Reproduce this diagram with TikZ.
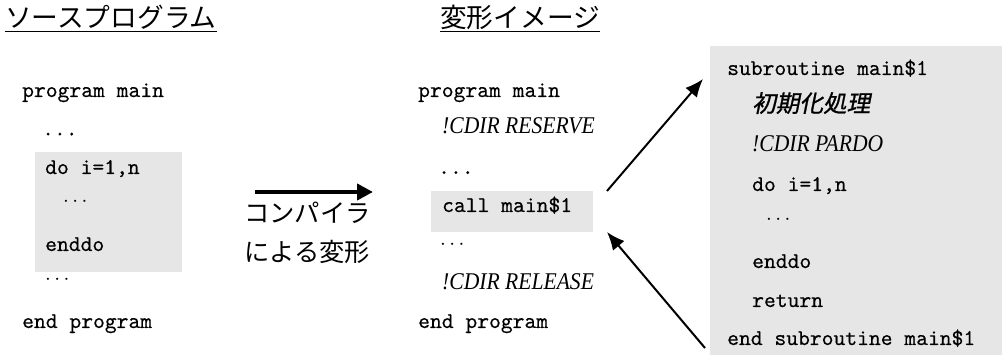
\documentclass[tikz,border=0pt]{standalone}
\usepackage{fontspec}
\usetikzlibrary{arrows.meta}
\newfontfamily\jpfont{Noto Sans CJK JP}
\newfontfamily\jpslant[FakeSlant=0.2,FakeBold=1.0]{Noto Sans CJK JP}
\newfontfamily\cdirfont[FakeStretch=0.9]{Liberation Serif Italic}
\newfontfamily\monobold[FakeBold=0.35]{lmmono10-regular.otf}
\newcommand\mycode{\monobold\fontsize{22.5}{27}\selectfont}
\definecolor{boxgray}{RGB}{230,230,230}
\begin{document}
\begin{tikzpicture}[x=1pt,y=-1pt,
  code/.style={anchor=base west,inner sep=0pt,font=\mycode},
  dots/.style={anchor=west,inner sep=0pt,font=\mycode},
  cdir/.style={anchor=base west,inner sep=0pt,font=\cdirfont\fontsize{24}{28}\selectfont},
  title/.style={anchor=base west,inner sep=0pt,font=\jpfont\fontsize{26.7}{30}\selectfont},
  jplabel/.style={anchor=base west,inner sep=0pt,font=\jpfont\fontsize{25.3}{30}\selectfont},
  graybox/.style={fill=boxgray,draw=none,inner sep=0pt,anchor=north west},
  uline/.style={line width=1.8pt},
  bigarrow/.style={line width=4pt,-{Triangle[length=16pt,width=16pt]}},
  diagarrow/.style={line width=2pt,-{Latex[length=18pt,width=15pt]}}]
\useasboundingbox (0,0) rectangle (1002,355);

% gray boxes
\node[graybox,minimum width=147pt,minimum height=120pt] (loopbox) at (35,152) {};
\node[graybox,minimum width=162pt,minimum height=41pt] (callbox) at (431,191) {};
\node[graybox,minimum width=292pt,minimum height=309pt] (subbox) at (710,46) {};

% titles
\node[title] (t1) at (5,28) {ソースプログラム};
\node[title] (t2) at (440,28) {変形イメージ};
\draw[uline] ([yshift=-3.5pt]t1.base west) -- ([yshift=-3.5pt]t1.base east);
\draw[uline] ([yshift=-3.5pt]t2.base west) -- ([yshift=-3.5pt]t2.base east);

% left column
\node[code] (l1) at (22,97) {program main};
\node[code] (l2) at (42,135.5) {...};
\node[code] (l3) at (45,174) {do i=1,n};
\node[dots] (l4) at (63,202) {$\cdots$};
\node[code] (l5) at (45,251) {enddo};
\node[dots] (l6) at (45,280) {$\cdots$};
\node[code] (l7) at (22,328) {end program};

% middle arrow and label
\coordinate (ba) at (255,192);
\coordinate (bb) at (373,192);
\draw[bigarrow] (ba) -- (bb);
\node[jplabel] (c1) at (244,222.5) {コンパイラ};
\node[jplabel] (c2) at (244,261.5) {による変形};

% middle column
\node[code] (m1) at (418,97) {program main};
\node[cdir] (m2) at (442,133.5) {!CDIR RESERVE};
\node[code] (m3) at (438,174) {...};
\node[code] (m4) at (442,212) {call main\$1};
\node[dots] (m5) at (440,245) {$\cdots$};
\node[cdir] (m6) at (442,290) {!CDIR RELEASE};
\node[code] (m7) at (418,328) {end program};

% right column
\node[code] (r1) at (727,75) {subroutine main\$1};
\node[anchor=base west,inner sep=0pt,font=\jpslant\fontsize{23.6}{28}\selectfont] (r2) at (752,112) {初期化処理};
\node[cdir] (r3) at (752,152) {!CDIR PARDO};
\node[code] (r4) at (752,191) {do i=1,n};
\node[dots] (r5) at (766,220) {$\cdots$};
\node[code] (r6) at (752,268) {enddo};
\node[code] (r7) at (752,307) {return};
\node[code] (r8) at (727,345) {end subroutine main\$1};

% call / return arrows
\coordinate (a1s) at (607,191);
\coordinate (a1e) at (703,79);
\coordinate (a2s) at (705,348);
\coordinate (a2e) at (607,232);
\draw[diagarrow] (a1s) -- (a1e);
\draw[diagarrow] (a2s) -- (a2e);
\end{tikzpicture}
\end{document}
